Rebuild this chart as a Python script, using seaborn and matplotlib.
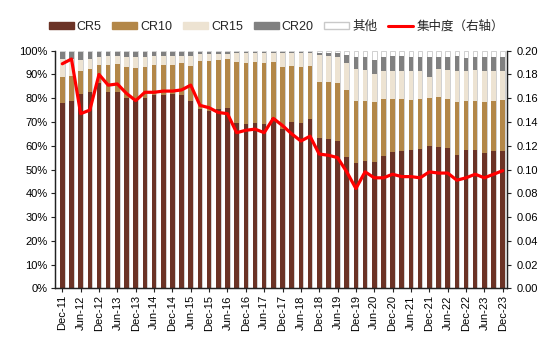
import matplotlib
matplotlib.use('Agg')
import matplotlib.pyplot as plt
import seaborn as sns
import pandas as pd
import numpy as np
from matplotlib.patches import Patch
from matplotlib.lines import Line2D

quarters = [
    "Dec-11", "Mar-12", "Jun-12", "Sep-12", "Dec-12", "Mar-13", "Jun-13", "Sep-13",
    "Dec-13", "Mar-14", "Jun-14", "Sep-14", "Dec-14", "Mar-15", "Jun-15", "Sep-15",
    "Dec-15", "Mar-16", "Jun-16", "Sep-16", "Dec-16", "Mar-17", "Jun-17", "Sep-17",
    "Dec-17", "Mar-18", "Jun-18", "Sep-18", "Dec-18", "Mar-19", "Jun-19", "Sep-19",
    "Dec-19", "Mar-20", "Jun-20", "Sep-20", "Dec-20", "Mar-21", "Jun-21", "Sep-21",
    "Dec-21", "Mar-22", "Jun-22", "Sep-22", "Dec-22", "Mar-23", "Jun-23", "Sep-23",
    "Dec-23",
]

# cumulative concentration ratios (%)
cr5 = [77.8, 78.9, 81.7, 82.7, 86.6, 82.7, 82.7, 79.9, 78.7, 79.9,
       81.5, 81.5, 81.8, 81.4, 78.9, 75.4, 74.8, 75.4, 75.8, 69.5,
       69.1, 69.5, 69.1, 71.6, 67.0, 70.0, 69.7, 71.1, 63.2, 63.0,
       61.8, 55.4, 52.9, 53.7, 53.0, 55.7, 57.5, 57.9, 58.2, 58.6,
       60.0, 59.6, 59.2, 56.2, 58.2, 58.2, 57.1, 57.9, 57.9]
cr10 = [89.1, 89.4, 91.6, 92.5, 94.1, 94.1, 94.5, 93.3, 92.6, 93.3,
        94.0, 94.0, 94.1, 95.0, 93.6, 95.8, 95.8, 96.2, 96.5, 95.4,
        94.8, 95.4, 95.0, 95.4, 93.3, 93.6, 93.0, 93.6, 87.0, 87.0,
        86.5, 83.4, 78.8, 78.8, 78.4, 79.8, 79.8, 79.7, 79.4, 79.5,
        80.2, 80.7, 79.8, 78.5, 79.0, 79.0, 78.3, 79.0, 79.1]
cr15 = [96.3, 96.3, 96.0, 96.3, 97.3, 97.6, 97.6, 97.2, 97.2, 97.2,
        97.6, 97.6, 97.6, 97.6, 97.6, 98.6, 98.6, 98.6, 98.6, 98.9,
        98.9, 98.9, 98.9, 98.9, 98.9, 98.9, 98.9, 98.9, 98.2, 97.9,
        97.5, 94.8, 92.3, 91.9, 90.4, 91.6, 91.6, 91.6, 91.3, 91.6,
        89.0, 92.3, 91.9, 91.6, 91.6, 92.0, 91.3, 91.6, 91.3]
cr20 = [99.5, 99.5, 99.5, 99.5, 99.5, 99.5, 99.5, 99.5, 99.5, 99.5,
        99.5, 99.5, 99.5, 99.5, 99.5, 99.5, 99.5, 99.5, 99.5, 99.5,
        99.5, 99.5, 99.5, 99.5, 99.5, 99.5, 99.5, 99.5, 99.2, 99.2,
        99.0, 98.3, 97.2, 97.2, 96.2, 97.2, 97.6, 97.8, 97.5, 97.5,
        97.5, 97.5, 97.5, 97.8, 97.0, 97.2, 97.5, 97.5, 97.2]
total = [100.0] * len(quarters)
# concentration index (right axis)
conc = [0.189, 0.193, 0.147, 0.150, 0.180, 0.171, 0.172, 0.164, 0.158, 0.165,
        0.165, 0.166, 0.166, 0.167, 0.171, 0.154, 0.152, 0.148, 0.147, 0.131,
        0.133, 0.134, 0.131, 0.143, 0.137, 0.130, 0.124, 0.128, 0.113, 0.112,
        0.110, 0.098, 0.084, 0.098, 0.093, 0.093, 0.096, 0.094, 0.094, 0.093,
        0.098, 0.097, 0.097, 0.091, 0.093, 0.096, 0.093, 0.096, 0.099]

legend_labels = ["CR5", "CR10", "CR15", "CR20", "其他", "集中度（右轴）"]

C_CR5 = "#6b3326"
C_CR10 = "#b38748"
C_CR15 = "#ede3d2"
C_CR20 = "#808080"
C_OTH = "#ffffff"
C_LINE = "#ff0000"

sns.set_theme(style="white")
plt.rcParams['font.family'] = ['Liberation Sans', 'Noto Sans CJK SC', 'DejaVu Sans']

df = pd.DataFrame({"quarter": quarters, "cr5": cr5, "cr10": cr10, "cr15": cr15,
                   "cr20": cr20, "total": total})
df["pos"] = np.arange(len(df))

L, R, T, B = 54.5, 507.3, 50.7, 288.3
fig = plt.figure(figsize=(5.58, 3.5), dpi=100)
ax = fig.add_axes([L / 558, 1 - B / 350, (R - L) / 558, (B - T) / 350])

bw = 0.5
sns.barplot(data=df, x="quarter", y="total", color=C_OTH, edgecolor="#c9c9c9",
            linewidth=0.6, width=bw, saturation=1, errorbar=None, ax=ax)
for col, c in [("cr20", C_CR20), ("cr15", C_CR15), ("cr10", C_CR10), ("cr5", C_CR5)]:
    sns.barplot(data=df, x="quarter", y=col, color=c, linewidth=0, width=bw,
                saturation=1, errorbar=None, ax=ax)

ax.set_xlim(-0.85, len(df) - 1 + 0.5)
ax.set_ylim(0, 100)
ax.set_yticks(np.arange(0, 101, 10))
ax.set_yticklabels([f"{v}%" for v in range(0, 101, 10)])
ax.set_xticks(np.arange(0, len(df), 2))
ax.set_xticklabels(quarters[::2], rotation=90)
ax.set_xlabel("")
ax.set_ylabel("")

ax2 = ax.twinx()
sns.lineplot(x=df["pos"], y=conc, color=C_LINE, linewidth=2.3, ax=ax2)
ax2.set_ylim(0, 0.2)
ax2.set_yticks(np.arange(0, 0.201, 0.02))
ax2.set_yticklabels([f"{v:.2f}" for v in np.arange(0, 0.201, 0.02)])
ax2.set_ylabel("")
ax2.set_xlim(ax.get_xlim())

for a in (ax, ax2):
    for s in ["left", "right", "bottom"]:
        a.spines[s].set_visible(True)
        a.spines[s].set_color("#222222")
        a.spines[s].set_linewidth(0.9)
    a.spines["top"].set_visible(False)
    a.tick_params(axis="both", direction="out", length=3, width=0.8,
                  color="#222222", labelsize=8, labelcolor="black", pad=2)
ax.tick_params(axis="y", left=True, right=False)
ax.tick_params(axis="x", bottom=True)
ax2.tick_params(axis="y", right=True, left=False, pad=3.5)

handles = [Patch(facecolor=C_CR5, edgecolor=C_CR5),
           Patch(facecolor=C_CR10, edgecolor=C_CR10),
           Patch(facecolor=C_CR15, edgecolor=C_CR15),
           Patch(facecolor=C_CR20, edgecolor=C_CR20),
           Patch(facecolor=C_OTH, edgecolor="#c9c9c9"),
           Line2D([0], [0], color=C_LINE, lw=2.2)]
fig.legend(handles, legend_labels, loc="center", bbox_to_anchor=(0.495, 0.924),
           ncol=6, frameon=False, fontsize=9, handlelength=2.0, handleheight=0.5,
           columnspacing=0.85, handletextpad=0.25)

fig.savefig("out.png", dpi=100)
